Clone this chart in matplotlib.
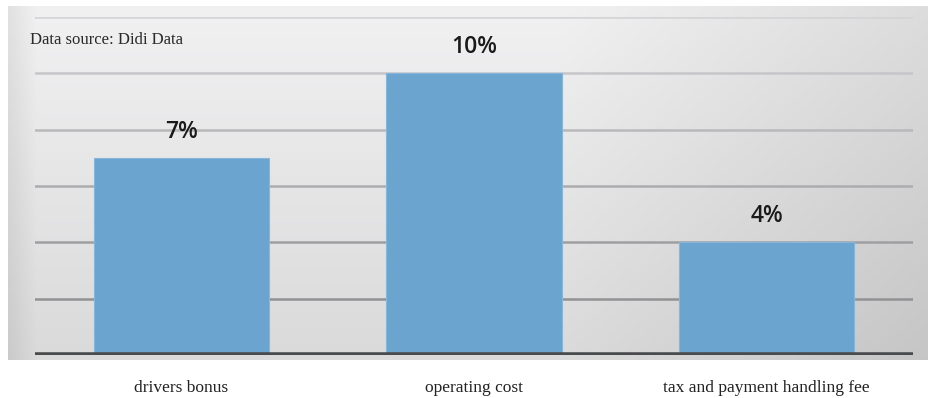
# Didi cost breakdown: three bars on a grey gradient panel.

import matplotlib
matplotlib.use("Agg")
import matplotlib.pyplot as plt
import numpy as np

categories = ["drivers bonus", "operating cost", "tax and payment handling fee"]
shares = [7, 10, 4]  # percent
value_labels = ["7%", "10%", "4%"]
y_ticks = [0, 2, 4, 6, 8, 10, 12]
source_note = "Data source: Didi Data"

W, H = 929, 398
fig = plt.figure(figsize=(W / 100, H / 100), dpi=100)
fig.patch.set_facecolor("white")

# gradient panel behind the plot (lighter top-left, darker right and bottom)
bg = fig.add_axes([8 / W, 1 - 360 / H, 1 - 8 / W, 354 / H], zorder=0)
gx = np.linspace(0, 1, 300)
gy = np.linspace(0, 1, 120)
X, Y = np.meshgrid(gx, gy)
shade = (0.945 - 0.09 * Y
         - 0.08 * np.clip(X - 0.6, 0, None) / 0.4
         - 0.06 * np.clip(0.03 - X, 0, None) / 0.03)
bg.imshow(np.dstack([shade, shade, shade * 1.005]).clip(0, 1),
          aspect="auto", extent=[0, 1, 1, 0])
bg.axis("off")

ax = fig.add_axes([35 / W, 1 - 355 / H, (913 - 35) / W, (355 - 17) / H], zorder=1)
ax.patch.set_alpha(0)

x = np.arange(len(categories))
bars = ax.bar(x, shares, width=0.6, color="#6ba4cf", edgecolor="#86b6dc",
              linewidth=0.8, zorder=3)

ax.set_xlim(-0.5, len(categories) - 0.5)
ax.set_ylim(y_ticks[0], y_ticks[-1])

# gridlines fade from light at the top to darker near the base
top_c = np.array([0.83, 0.83, 0.84])
low_c = np.array([0.52, 0.52, 0.53])
for t in y_ticks[1:]:
    frac = t / y_ticks[-1]
    ax.axhline(t, color=low_c + (top_c - low_c) * frac, lw=1.8, zorder=2)
ax.axhline(y_ticks[0], color="#4a4b4d", lw=4, zorder=4)

for rect, lab in zip(bars, value_labels):
    ax.annotate(lab, (rect.get_x() + rect.get_width() / 2, rect.get_height()),
                xytext=(0, 10), textcoords="offset points", ha="center", va="bottom",
                fontsize=16.5, fontweight="semibold", family="Open Sans", color="#1a1a1a")

ax.set_xticks(x)
ax.set_xticklabels(categories, family="Liberation Serif", fontsize=12.5, color="#222222")
ax.tick_params(axis="x", length=0, pad=18)
ax.set_yticks([])
for s in ax.spines.values():
    s.set_visible(False)

fig.text(30 / W, 1 - 40 / H, source_note, family="Liberation Serif", fontsize=12,
         color="#2a2a2a", va="center", ha="left", zorder=5)

fig.savefig("out.png", dpi=100)
